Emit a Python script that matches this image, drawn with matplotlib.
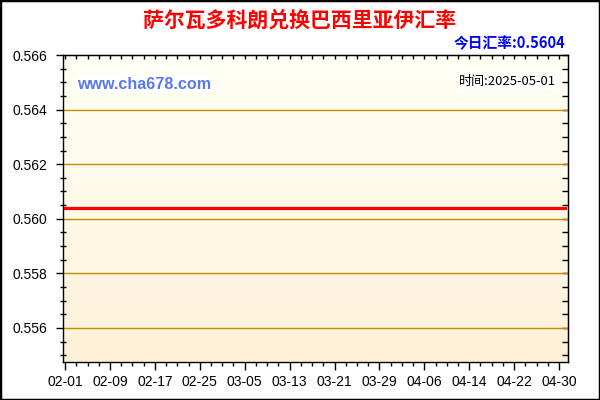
import numpy as np
import pandas as pd
import matplotlib
matplotlib.use('Agg')
import matplotlib.pyplot as plt
import matplotlib.dates as mdates
from matplotlib.colors import LinearSegmentedColormap
from matplotlib.patches import Rectangle

plt.rcParams['font.family'] = ['Liberation Sans', 'Noto Sans CJK SC', 'DejaVu Sans']

# data
title = '萨尔瓦多科朗兑换巴西里亚伊汇率'
rate_today = '今日汇率:0.5604'
date_text = '时间:2025-05-01'
site = 'www.cha678.com'
dates = pd.date_range('2025-02-01', '2025-05-01', freq='D')
rates = [0.5604] * len(dates)
yticks = [0.556, 0.558, 0.560, 0.562, 0.564, 0.566]
xtick_dates = pd.date_range('2025-02-01', '2025-04-30', freq='8D')

fig = plt.figure(figsize=(6, 4), dpi=100)
ax = fig.add_axes([63 / 600, 1 - 362 / 400, (568 - 63) / 600, (362 - 55) / 400])

# gradient background
cmap = LinearSegmentedColormap.from_list('bg', ['#fdf0d6', '#fff9e8', '#fffff4'])
grad = np.linspace(0, 1, 256).reshape(-1, 1)
ax.imshow(grad, cmap=cmap, aspect='auto', extent=[0, 1, 0, 1],
          transform=ax.transAxes, origin='lower', zorder=0)

for y in yticks[:-1]:
    ax.axhline(y, color='#c08c00', lw=1, zorder=1)

ax.plot(dates, rates, color='#ff0000', lw=2.3, zorder=3)

ax.set_ylim(0.55475, 0.566)
ax.set_xlim(dates[0] - pd.Timedelta(hours=9), dates[0] + pd.Timedelta(days=89.6))

ax.set_yticks(yticks)
ax.set_yticklabels(['%.3f' % v for v in yticks])
ax.yaxis.set_minor_locator(matplotlib.ticker.MultipleLocator(0.0005))
ax.set_xticks(xtick_dates)
ax.set_xticklabels([d.strftime('%m-%d') for d in xtick_dates])
ax.xaxis.set_minor_locator(mdates.DayLocator(interval=2))

ax.tick_params(axis='y', which='major', direction='out', length=5, width=1,
               labelsize=10, pad=6)
ax.tick_params(axis='y', which='minor', direction='inout', length=5, width=1)
ax.tick_params(axis='x', which='major', direction='out', length=6, width=1,
               labelsize=10, pad=3)
ax.tick_params(axis='x', which='minor', direction='out', length=3, width=1)
for sp in ax.spines.values():
    sp.set_linewidth(1)
    sp.set_color('black')

# top and right ticks point inward
top = ax.secondary_xaxis('top')
top.set_xticks(xtick_dates)
top.xaxis.set_minor_locator(mdates.DayLocator(interval=2))
top.tick_params(which='both', direction='in', length=3, width=1, labeltop=False)
right = ax.secondary_yaxis('right')
right.set_yticks(yticks)
right.yaxis.set_minor_locator(matplotlib.ticker.MultipleLocator(0.0005))
right.tick_params(which='both', direction='in', length=4, width=1, labelright=False)

fig.text(0.5, 0.95, title, color='#ff0000', fontsize=15, fontweight='bold',
         ha='center', va='center', family=['Noto Sans CJK SC', 'DejaVu Sans'])
fig.text(565 / 600, 1 - 43 / 400, rate_today, color='#0000ff', fontsize=10.6,
         fontweight='bold', ha='right', va='center',
         family=['Noto Sans CJK SC', 'DejaVu Sans'])
ax.text(77 / 600, 1 - 84.5 / 400, site, transform=fig.transFigure, color='#5878f0',
        fontsize=11.6, fontweight='bold', ha='left', va='center', zorder=4,
        bbox=dict(facecolor='white', edgecolor='none', pad=1))
ax.text(556 / 600, 1 - 82 / 400, date_text, transform=fig.transFigure, color='black',
        fontsize=9.4, ha='right', va='center', zorder=4,
        family=['Noto Sans CJK SC', 'DejaVu Sans'],
        bbox=dict(facecolor='white', edgecolor='none', pad=1))

fig.patches.append(Rectangle((0, 0), 1, 1, transform=fig.transFigure, fill=False,
                             edgecolor='black', lw=2.5))

fig.savefig('out.png', dpi=100)
